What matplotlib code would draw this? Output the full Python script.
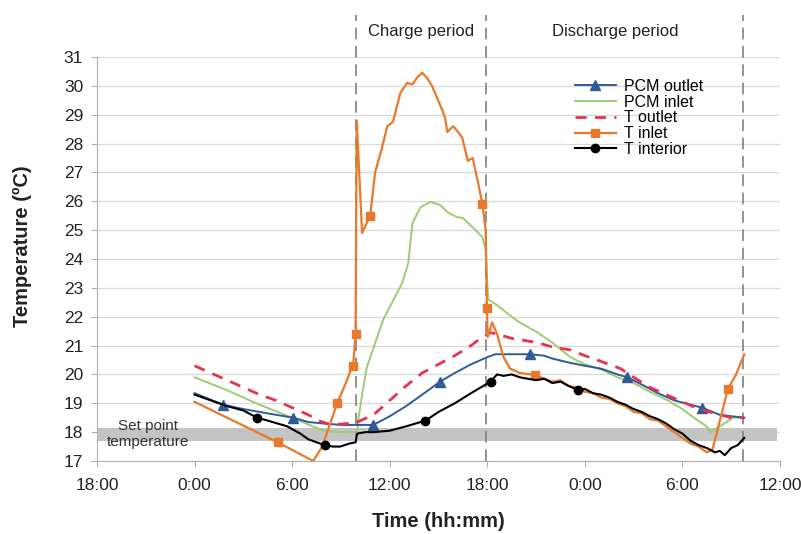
import numpy as np
import matplotlib
matplotlib.use("Agg")
import matplotlib.pyplot as plt

# ==========================================
# DATA (time in hours from 0:00 of day 1)
# ==========================================
T_INLET_T = [0, 5.1, 7.3, 7.85, 8.77, 9.3, 9.6, 9.75, 9.9, 9.97, 10.3, 10.8, 11.1, 11.5, 11.85, 12.2,
             12.65, 13.07, 13.4, 13.7, 14.0, 14.3, 14.6, 14.9, 15.2, 15.4, 15.54, 15.9, 16.2, 16.46,
             16.8, 17.1, 17.45, 17.7, 17.9, 17.98, 18.02, 18.3, 18.6, 19.0, 19.4, 20.0, 20.95,
             21.5, 22.0, 22.5, 23.0, 23.5, 24.0, 24.5, 25.0, 25.5, 26.0, 26.5, 27.0, 27.5, 28.0,
             28.5, 29.0, 29.5, 30.0, 30.5, 31.0, 31.5, 31.85, 32.3, 32.8, 33.3, 33.8]
T_INLET = [19.05, 17.65, 17.0, 17.5, 19.0, 19.7, 20.15, 20.3, 21.4, 28.8, 24.9, 25.5, 27.0, 27.8, 28.6, 28.75,
           29.75, 30.1, 30.05, 30.3, 30.45, 30.27, 30.0, 29.6, 29.2, 28.9, 28.4, 28.6, 28.4, 28.2,
           27.4, 27.5, 26.6, 25.9, 25.0, 22.3, 21.3, 21.8, 21.4, 20.6, 20.2, 20.05, 19.98,
           19.85, 19.75, 19.8, 19.6, 19.55, 19.4, 19.35, 19.2, 19.15, 19.0, 18.9, 18.7, 18.65, 18.45,
           18.4, 18.2, 18.0, 17.8, 17.6, 17.5, 17.3, 17.4, 18.4, 19.5, 20.0, 20.7]
T_INLET_MK = [5.1, 8.77, 9.75, 9.9, 10.8, 17.7, 17.98, 20.95, 32.8]

T_INT_T = [0, 1.0, 2.0, 3.0, 3.85, 4.5, 5.7, 6.5, 7.0, 8.0, 8.5, 8.95, 9.5, 9.9, 10.0, 10.5, 11.0, 12.0,
           13.0, 14.2, 15.0, 16.0, 17.0, 18.2, 18.6, 19.0, 19.5, 20.0, 20.5, 21.0, 21.5, 22.0, 22.5,
           23.0, 23.6, 24.0, 24.5, 25.0, 25.5, 26.0, 26.5, 27.0, 27.5, 28.0, 28.5, 29.0, 29.5, 30.0,
           30.5, 31.0, 31.5, 32.0, 32.3, 32.6, 33.0, 33.4, 33.8]
T_INT = [19.3, 19.1, 18.9, 18.75, 18.5, 18.4, 18.2, 17.95, 17.75, 17.55, 17.5, 17.5, 17.6, 17.65, 17.95, 18.0, 18.0, 18.05,
         18.2, 18.4, 18.7, 19.0, 19.35, 19.75, 20.0, 19.95, 20.0, 19.9, 19.85, 19.8, 19.85, 19.7, 19.75,
         19.6, 19.45, 19.5, 19.35, 19.3, 19.2, 19.05, 18.95, 18.8, 18.7, 18.55, 18.45, 18.3, 18.1, 17.95,
         17.7, 17.55, 17.45, 17.3, 17.35, 17.2, 17.45, 17.55, 17.8]
T_INT_MK = [3.85, 8.0, 14.2, 18.2, 23.6]

PCM_OUT_T = [0, 1.75, 3.0, 4.5, 6.06, 7.0, 7.9, 9.0, 10.0, 10.98, 12.0, 13.0, 14.0, 15.1, 16.0, 17.0,
             18.0, 18.5, 19.5, 20.6, 21.5, 22.0, 23.1, 24.0, 25.0, 26.0, 26.6, 27.5, 28.5, 29.5,
             30.5, 31.2, 32.3, 33.8]
PCM_OUT = [19.35, 18.95, 18.8, 18.65, 18.5, 18.35, 18.3, 18.25, 18.25, 18.25, 18.55, 18.9, 19.3, 19.75, 20.05, 20.35,
           20.6, 20.7, 20.7, 20.7, 20.65, 20.55, 20.4, 20.3, 20.2, 20.0, 19.9, 19.65, 19.35, 19.1,
           18.95, 18.85, 18.6, 18.5]
PCM_OUT_MK = [1.75, 6.06, 10.98, 15.1, 20.6, 26.6, 31.2]

PCM_IN_T = [0, 2.0, 4.0, 6.0, 7.9, 9.0, 10.0, 10.06, 10.3, 10.6, 11.6, 12.77, 13.14, 13.4, 13.9, 14.5,
            15.1, 15.6, 16.15, 16.5, 17.1, 17.7, 17.9, 18.0, 18.06, 18.6, 19.5, 20.0, 21.1, 22.0,
            23.1, 24.0, 25.1, 26.0, 27.0, 28.0, 29.1, 30.0, 30.7, 31.5, 31.7, 32.3, 33.1, 33.6]
PCM_IN = [19.9, 19.45, 18.95, 18.5, 18.05, 18.0, 18.0, 18.4, 19.3, 20.26, 21.9, 23.17, 23.86, 25.25, 25.8, 25.98,
          25.87, 25.6, 25.45, 25.42, 25.1, 24.76, 24.3, 23.2, 22.6, 22.4, 22.0, 21.8, 21.45, 21.1,
          20.6, 20.35, 20.15, 19.9, 19.7, 19.4, 19.1, 18.8, 18.5, 18.2, 18.0, 18.2, 18.5, 18.5]

T_OUT_T = [0, 1, 2, 3, 4, 5, 6, 7, 7.6, 8.4, 9.4, 10, 11, 12, 13, 14, 15, 16, 17, 17.7, 18.2, 18.6,
           19.5, 21.1, 22, 23.1, 24, 25, 26.2, 27, 28, 29, 30, 31, 32, 33, 33.8]
T_OUT = [20.3, 20.05, 19.8, 19.55, 19.3, 19.1, 18.85, 18.6, 18.4, 18.25, 18.3, 18.35, 18.6, 19.1, 19.6, 20.05,
         20.35, 20.65, 21.0, 21.3, 21.45, 21.4, 21.25, 21.1, 20.95, 20.85, 20.65, 20.45, 20.2, 19.9,
         19.55, 19.3, 19.05, 18.8, 18.65, 18.5, 18.5]

X_TICKS = [-6, 0, 6, 12, 18, 24, 30, 36]
X_LABELS = ["18:00", "0:00", "6:00", "12:00", "18:00", "0:00", "6:00", "12:00"]
PERIOD_LINES = [9.9, 17.95, 33.75]
SET_POINT = (17.7, 18.15)

plt.rcParams['font.family'] = ['Liberation Sans', 'DejaVu Sans']


def marks(ts, mk):
    ts = np.asarray(ts)
    return [int(np.argmin(np.abs(ts - m))) for m in mk]


fig = plt.figure(figsize=(8.01, 5.34), dpi=100)
ax = fig.add_axes([0.1211, 0.1367, 0.8527, 0.7566])

ax.set_xlim(-6, 36)
ax.set_ylim(17, 31)
ax.set_yticks(range(17, 32))
ax.set_xticks(X_TICKS)
ax.set_xticklabels(X_LABELS)
ax.grid(axis='y', color='#d9d9d9', lw=0.9)
ax.set_axisbelow(True)
for s in ['top', 'right']:
    ax.spines[s].set_visible(False)
for s in ['left', 'bottom']:
    ax.spines[s].set_color('#b0b0b0')
ax.tick_params(axis='both', colors='#b0b0b0', length=4, labelcolor='#222222', labelsize=12.5)
ax.tick_params(axis='y', pad=6)
ax.tick_params(axis='x', pad=8)

# set point band
ax.axhspan(SET_POINT[0], SET_POINT[1], xmin=0, xmax=0.995, color='#c4c4c4', lw=0, zorder=1)
ax.text(-2.85, 18.22, "Set point", ha='center', va='center', fontsize=11, color='#333333', zorder=5)
ax.text(-2.85, 17.65, "temperature", ha='center', va='center', fontsize=11, color='#333333', zorder=5)

# period lines
for x in PERIOD_LINES:
    ax.axvline(x, ymin=0, ymax=1.104, color='#7f7f7f', ls=(0, (7, 4)), lw=1.2, clip_on=False, zorder=2)
ax.text((PERIOD_LINES[0] + PERIOD_LINES[1]) / 2, 31.88, "Charge period", ha='center', va='center',
        fontsize=12, color='#222222')
ax.text((PERIOD_LINES[1] + PERIOD_LINES[2]) / 2, 31.88, "Discharge period", ha='center', va='center',
        fontsize=12, color='#222222')

ax.plot(PCM_OUT_T, PCM_OUT, color='#2f5b97', lw=1.4, marker='^', ms=6.5,
        markevery=marks(PCM_OUT_T, PCM_OUT_MK), label='PCM outlet', zorder=4)
ax.plot(PCM_IN_T, PCM_IN, color='#9dcb73', lw=1.4, label='PCM inlet', zorder=3)
ax.plot(T_OUT_T, T_OUT, color='#e8334f', lw=2.0, ls=(0, (4, 3)), label='T outlet', zorder=4)
ax.plot(T_INLET_T, T_INLET, color='#e8782a', lw=1.6, marker='s', ms=5.5,
        markevery=marks(T_INLET_T, T_INLET_MK), label='T inlet', zorder=5)
ax.plot(T_INT_T, T_INT, color='black', lw=1.5, marker='o', ms=6,
        markevery=marks(T_INT_T, T_INT_MK), label='T interior', zorder=6)

ax.legend(loc='upper left', bbox_to_anchor=(0.69, 0.962), frameon=False, fontsize=11.5,
          labelspacing=0.05, handlelength=2.6, handletextpad=0.5, borderaxespad=0)

ax.set_xlabel("Time (hh:mm)", fontsize=14.5, fontweight='bold', color='#222222')
ax.set_ylabel("Temperature (ºC)", fontsize=14.5, fontweight='bold', color='#222222')
ax.xaxis.set_label_coords(0.5, -0.125)
ax.yaxis.set_label_coords(-0.095, 0.532)

plt.savefig("out.png", dpi=100)
